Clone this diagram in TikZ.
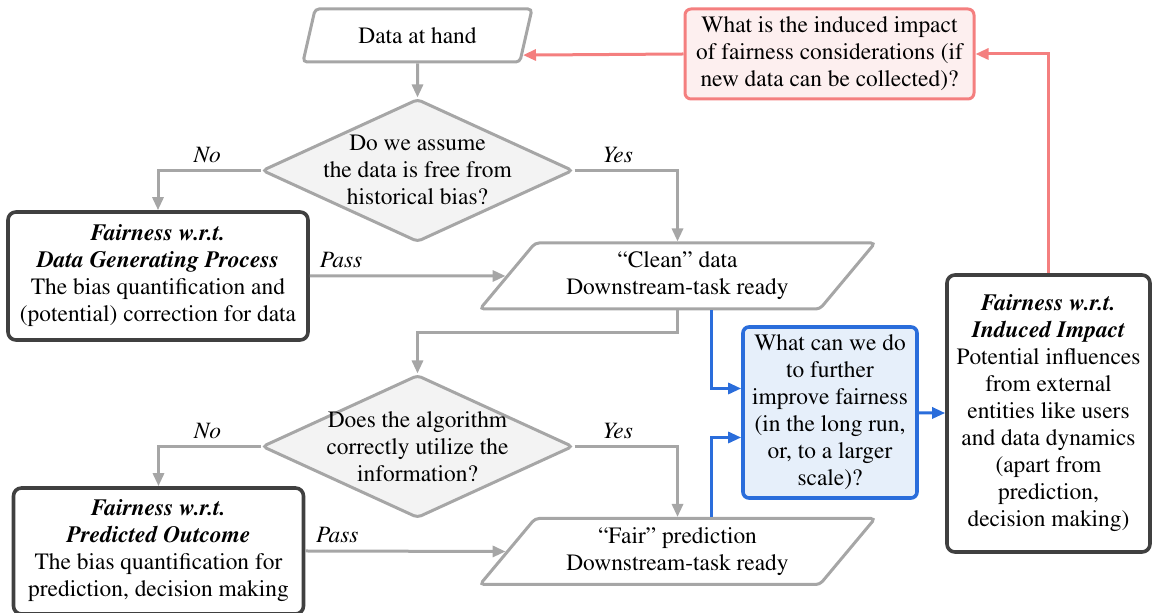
\documentclass[tikz,border=0pt]{standalone}
\usepackage[T1]{fontenc}
\renewcommand{\rmdefault}{ptm}
\usetikzlibrary{shapes.geometric,arrows.meta,calc}
\definecolor{flowgray}{HTML}{A6A6A6}
\definecolor{diafill}{HTML}{F3F3F3}
\definecolor{boxdark}{HTML}{404040}
\definecolor{askblue}{HTML}{2A6DDB}
\definecolor{askfill}{HTML}{E6EFFA}
\definecolor{loopred}{HTML}{F47F7F}
\definecolor{loopfill}{HTML}{FDEFEF}
\newcommand{\fw}[1]{\textbf{\textit{#1}}}
\begin{document}
\begin{tikzpicture}[>={Triangle[length=6.5pt,width=5.5pt]}, x=0.5pt, y=-0.5pt,
    every node/.style={font=\fontsize{11.7}{13.5}\selectfont},
    io/.style={trapezium, trapezium stretches body, draw=flowgray, line width=1.5pt, rounded corners=2pt, align=center, inner sep=0pt},
    test/.style={diamond, aspect=2.17, draw=flowgray, fill=diafill, line width=1.5pt, rounded corners=2pt, align=center, inner xsep=-14pt, inner ysep=0pt, minimum width=155.5pt, minimum height=71.5pt},
    frame/.style={rectangle, draw=boxdark, line width=1.8pt, rounded corners=4pt, align=center, inner sep=0pt},
    flow/.style={->, draw=flowgray, line width=1.5pt},
    bluearrow/.style={->, draw=askblue, line width=1.5pt},
    redarrow/.style={->, draw=loopred, line width=1.5pt},
    tag/.style={font=\fontsize{11.7}{13.5}\selectfont\itshape}]
  \useasboundingbox (0,0) rectangle (1153,613);
  \node[io, trapezium left angle=53, trapezium right angle=127, minimum width=114.5pt, minimum height=26.5pt] (hand) at (417.5,35.5) {Data at hand};
  \node[test] (q1) at (417.5,170.5) {Do we assume\\the data is free from\\historical bias?};
  \node[frame, minimum width=150pt, minimum height=64pt] (dgp) at (158,276) {\fw{Fairness w.r.t.}\\\fw{Data Generating Process}\\The bias quantification and\\(potential) correction for data};
  \node[io, trapezium left angle=41, trapezium right angle=139, minimum width=197.5pt, minimum height=33pt] (clean) at (677.5,276) {``Clean'' data\\Downstream-task ready};
  \node[test] (q2) at (417.5,446.5) {Does the algorithm\\correctly utilize the\\information?};
  \node[frame, minimum width=145pt, minimum height=63pt] (po) at (158.5,551) {\fw{Fairness w.r.t.}\\\fw{Predicted Outcome}\\The bias quantification for\\prediction, decision making};
  \node[io, trapezium left angle=41, trapezium right angle=139, minimum width=197.5pt, minimum height=33pt] (fair) at (677.5,551.5) {``Fair'' prediction\\Downstream-task ready};
  \node[frame, draw=askblue, fill=askfill, rounded corners=3pt, minimum width=87pt, minimum height=85.5pt] (ask) at (830,412.5) {What can we do\\to further\\improve fairness\\(in the long run,\\or, to a larger\\scale)?};
  \node[frame, minimum width=101.5pt, minimum height=138.5pt] (impact) at (1048.5,413.5) {\fw{Fairness w.r.t.}\\\fw{Induced Impact}\\Potential influences\\from external\\entities like users\\and data dynamics\\(apart from\\prediction,\\decision making)};
  \node[frame, draw=loopred, fill=loopfill, line width=1.5pt, rounded corners=3pt, minimum width=144.5pt, minimum height=45pt] (reflect) at (829.5,54) {What is the induced impact\\of fairness considerations (if\\new data can be collected)?};

  \draw[flow] (hand) -- (q1);
  \draw[flow] (q1.west) -| (dgp.north) node[tag, pos=0.26, above]{No};
  \draw[flow] (q1.east) -| (clean.north) node[tag, pos=0.21, above]{Yes};
  \draw[flow] (dgp.east) -- (clean.west) node[tag, pos=0.16, above]{Pass};
  \draw[flow] (clean.south) -- ++(0,22) -| (q2.north);
  \draw[flow] (q2.west) -| (po.north) node[tag, pos=0.26, above]{No};
  \draw[flow] (q2.east) -| (fair.north) node[tag, pos=0.21, above]{Yes};
  \draw[flow] (po.east) -- (fair.west) node[tag, pos=0.16, above]{Pass};
  \draw[bluearrow] ([xshift=17pt]clean.south) |- ([yshift=12pt]ask.west);
  \draw[bluearrow] ([xshift=17pt]fair.north) |- ([yshift=-12.5pt]ask.west);
  \draw[bluearrow] (ask) -- (impact);
  \draw[redarrow] (impact.north) |- (reflect.east);
  \draw[redarrow] (reflect.west) -- ($(hand.bottom right corner)!0.15!(hand.top right corner)$);
\end{tikzpicture}
\end{document}
